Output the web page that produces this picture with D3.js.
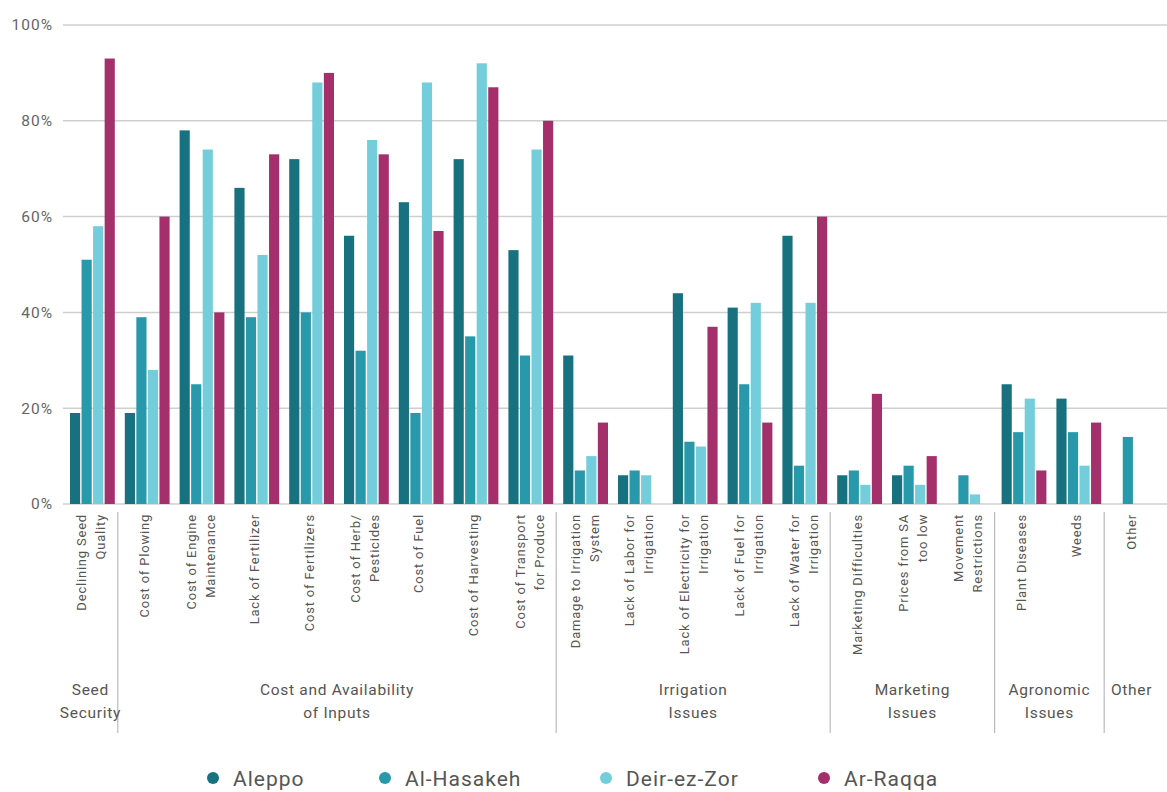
<!DOCTYPE html>
<html>
<head>
<meta charset="utf-8">
<script src="https://cdn.jsdelivr.net/npm/d3@7"></script>
<style>
  html, body { margin: 0; padding: 0; background: #fff; }
  svg { display: block; font-family: Roboto, "Noto Sans", sans-serif; }
</style>
</head>
<body>
<svg id="chart" width="1167" height="792"></svg>
<script>
// categories, with line breaks for the rotated labels
var categories = [
    ["Declining Seed", "Quality"],
    ["Cost of Plowing"],
    ["Cost of Engine", "Maintenance"],
    ["Lack of Fertilizer"],
    ["Cost of Fertilizers"],
    ["Cost of Herb/", "Pesticides"],
    ["Cost of Fuel"],
    ["Cost of Harvesting"],
    ["Cost of Transport", "for Produce"],
    ["Damage to Irrigation", "System"],
    ["Lack of Labor for", "Irrigation"],
    ["Lack of Electricity for", "Irrigation"],
    ["Lack of Fuel for", "Irrigation"],
    ["Lack of Water for", "Irrigation"],
    ["Marketing Difficulties"],
    ["Prices from SA", "too low"],
    ["Movement", "Restrictions"],
    ["Plant Diseases"],
    ["Weeds"],
    ["Other"]
];

var groupNames = [["Seed", "Security"], ["Cost and Availability", "of Inputs"], ["Irrigation", "Issues"], ["Marketing", "Issues"], ["Agronomic", "Issues"], ["Other"]];
var groupSizes = [1, 8, 5, 3, 2, 1];

var regions = ["Aleppo", "Al-Hasakeh", "Deir-ez-Zor", "Ar-Raqqa"];
var regionColors = ["#17717f", "#2799aa", "#73cddb", "#a3306b"];

var aleppo    = [19, 19, 78, 66, 72, 56, 63, 72, 53, 31, 6, 44, 41, 56, 6, 6, 0, 25, 22, 0];
var hasakeh   = [51, 39, 25, 39, 40, 32, 19, 35, 31, 7, 7, 13, 25, 8, 7, 8, 6, 15, 15, 14];
var deirEzZor = [58, 28, 74, 52, 88, 76, 88, 92, 74, 10, 6, 12, 42, 42, 4, 4, 2, 22, 8, 0];
var arRaqqa   = [93, 60, 40, 73, 90, 73, 57, 87, 80, 17, 0, 37, 17, 60, 23, 10, 0, 7, 17, 0];

var yTicks = [0, 20, 40, 60, 80, 100];

var series = [aleppo, hasakeh, deirEzZor, arRaqqa];

var svg = d3.select("#chart");

var x0 = d3.scaleBand()
    .domain(d3.range(categories.length))
    .range([63, 1159])
    .padding(0);

var x1 = d3.scaleBand()
    .domain(d3.range(regions.length))
    .range([7, x0.bandwidth() - 3])
    .paddingInner(0.12);

var y = d3.scaleLinear().domain([0, 100]).range([504, 25]);

// grid
svg.append("g")
    .selectAll("line")
    .data(yTicks)
    .join("line")
    .attr("x1", 63)
    .attr("x2", 1167)
    .attr("y1", function(d) { return y(d); })
    .attr("y2", function(d) { return y(d); })
    .attr("stroke", "#cfcfcf")
    .attr("stroke-width", 1.5);

svg.append("g")
    .selectAll("text")
    .data(yTicks)
    .join("text")
    .attr("x", 53)
    .attr("y", function(d) { return y(d); })
    .attr("dy", "0.35em")
    .attr("text-anchor", "end")
    .attr("fill", "#666")
    .style("font-size", "15.5px")
    .style("letter-spacing", "1px")
    .text(function(d) { return d + "%"; });

// bars
var cat = svg.append("g")
    .selectAll("g")
    .data(categories)
    .join("g")
    .attr("transform", function(d, i) { return "translate(" + x0(i) + ",0)"; });

cat.selectAll("rect")
    .data(function(d, i) { return series.map(function(s, k) { return { k: k, v: s[i] }; }); })
    .join("rect")
    .attr("x", function(d) { return x1(d.k); })
    .attr("width", x1.bandwidth())
    .attr("y", function(d) { return y(d.v); })
    .attr("height", function(d) { return y(0) - y(d.v); })
    .attr("fill", function(d) { return regionColors[d.k]; });

// rotated category labels
cat.each(function(lines, i) {
    var cx = x0.bandwidth() / 2;
    var t = d3.select(this).append("text")
        .attr("transform", "translate(" + cx + ",514) rotate(-90)")
        .attr("text-anchor", "end")
        .attr("fill", "#555")
        .style("font-size", "13px")
        .style("letter-spacing", "0.8px");
    var offsets = lines.length === 1 ? [4] : [-4, 15];
    lines.forEach(function(line, j) {
        t.append("tspan")
            .attr("x", 0)
            .attr("y", offsets[j])
            .text(line);
    });
});

// group separators and labels
var start = 0;
var groupG = svg.append("g");
groupSizes.forEach(function(n, gi) {
    var left = x0(start);
    var right = x0(start + n - 1) + x0.bandwidth();
    if (gi < groupSizes.length - 1) {
        groupG.append("line")
            .attr("x1", right).attr("x2", right)
            .attr("y1", 512).attr("y2", 733)
            .attr("stroke", "#bbb")
            .attr("stroke-width", 1.2);
    }
    var lbl = groupG.append("text")
        .attr("text-anchor", "middle")
        .attr("fill", "#555")
        .style("font-size", "15.5px")
        .style("letter-spacing", "0.7px");
    groupNames[gi].forEach(function(line, j) {
        lbl.append("tspan")
            .attr("x", (left + right) / 2)
            .attr("y", 695 + j * 23)
            .text(line);
    });
    start += n;
});

// legend
var legendX = [213, 385, 606, 824];
var legend = svg.append("g")
    .selectAll("g")
    .data(regions)
    .join("g")
    .attr("transform", function(d, i) { return "translate(" + legendX[i] + ",778)"; });

legend.append("circle")
    .attr("r", 6)
    .attr("fill", function(d, i) { return regionColors[i]; });

legend.append("text")
    .attr("x", 20)
    .attr("dy", "0.36em")
    .attr("fill", "#555")
    .style("font-size", "21px")
    .style("letter-spacing", "1px")
    .text(function(d) { return d; });
</script>
</body>
</html>
